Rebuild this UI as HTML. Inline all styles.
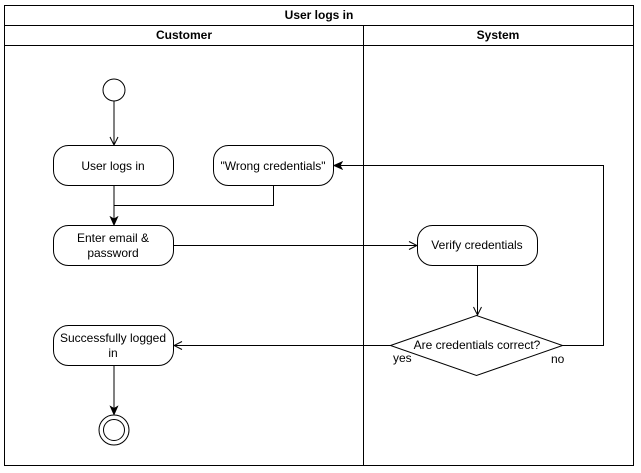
<!DOCTYPE html>
<html><head><style>body{margin:0;background:#fff}svg{display:block}text{font-family:"Liberation Sans",sans-serif;font-size:12px;fill:#000}</style></head><body>
<svg width="641" height="473" viewBox="0 0 641 473">
<defs>
<marker id="o" markerWidth="10" markerHeight="10" refX="9" refY="5" orient="auto" markerUnits="userSpaceOnUse"><path d="M1,1 L9,5 L1,9" fill="none" stroke="#000"/></marker>
<marker id="f" markerWidth="10" markerHeight="10" refX="9" refY="5" orient="auto" markerUnits="userSpaceOnUse"><path d="M1,1.5 L9,5 L1,8.5 L3,5 Z" fill="#000" stroke="#000"/></marker>
</defs>
<g fill="none" stroke="#000" stroke-width="1">
<rect x="4.5" y="5.5" width="629" height="460"/>
<line x1="4.5" y1="25.5" x2="633.5" y2="25.5"/>
<line x1="4.5" y1="45.5" x2="633.5" y2="45.5"/>
<line x1="363.5" y1="25.5" x2="363.5" y2="465.5"/>
<circle cx="114" cy="90" r="11"/>
<rect x="53.5" y="145.5" width="120" height="40" rx="15"/>
<rect x="213.5" y="145.5" width="120" height="40" rx="15"/>
<rect x="53.5" y="225.5" width="120" height="40" rx="15"/>
<rect x="417.5" y="225.5" width="120" height="40" rx="15"/>
<rect x="53.5" y="325.5" width="120" height="40" rx="15"/>
<path d="M390.5,345.5 L476.5,315.5 L562.5,345.5 L476.5,375.5 Z"/>
<circle cx="114" cy="430" r="15"/>
<circle cx="114" cy="430" r="10.5"/>
<line x1="114" y1="101" x2="114" y2="145" marker-end="url(#o)"/>
<path d="M273.5,185.5 V205.5 H114"/>
<line x1="114" y1="185.5" x2="114" y2="225" marker-end="url(#f)"/>
<line x1="173.5" y1="245.5" x2="417" y2="245.5" marker-end="url(#o)"/>
<line x1="477.5" y1="265.5" x2="477.5" y2="315" marker-end="url(#o)"/>
<path d="M562.5,345.5 H603.5 V165.5 H334" marker-end="url(#f)"/>
<line x1="390.5" y1="345.5" x2="174" y2="345.5" marker-end="url(#o)"/>
<line x1="114" y1="365.5" x2="114" y2="414.5" marker-end="url(#f)"/>
</g>
<g text-anchor="middle">
<text x="319" y="19" font-weight="bold">User logs in</text>
<text x="184" y="39" font-weight="bold">Customer</text>
<text x="498" y="39" font-weight="bold">System</text>
<text x="113" y="170">User logs in</text>
<text x="273" y="170">"Wrong credentials"</text>
<text x="113" y="242">Enter email &amp;</text>
<text x="113" y="257">password</text>
<text x="477" y="249">Verify credentials</text>
<text x="113" y="342">Successfully logged</text>
<text x="113" y="357">in</text>
<text x="477" y="349">Are credentials correct?</text>
</g>
<text x="393" y="362" font-size="11">yes</text>
<text x="551" y="363" font-size="11">no</text>
</svg>
</body></html>
